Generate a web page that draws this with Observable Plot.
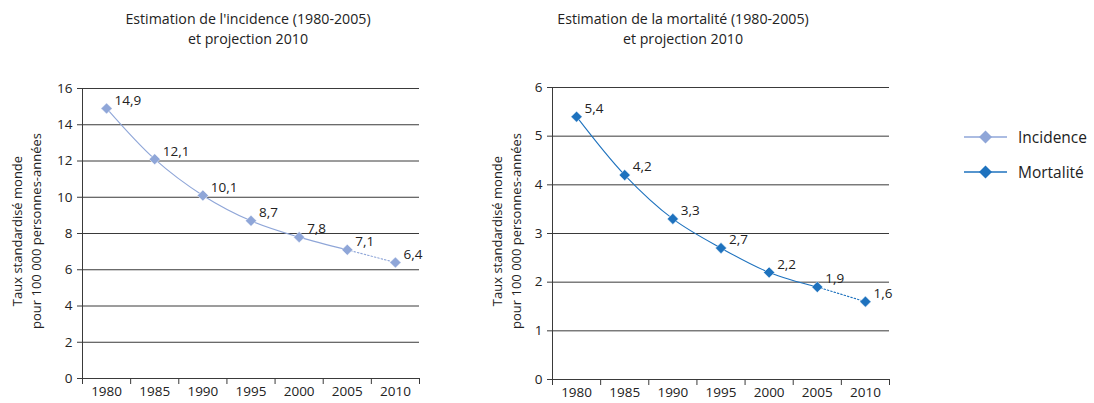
<!DOCTYPE html>
<html><head><meta charset="utf-8">
<script src="https://cdn.jsdelivr.net/npm/d3@7"></script>
<script src="https://cdn.jsdelivr.net/npm/@observablehq/plot@0.6"></script>
<style>
body{margin:0;background:#fff;font-family:"Open Sans",Lato,sans-serif;color:#222;}
#wrap{position:relative;width:1094px;height:403px;overflow:hidden;}
.title{position:absolute;text-align:center;font-size:14.2px;line-height:20px;width:380px;}
.ylab{position:absolute;width:300px;text-align:center;font-size:13px;line-height:19px;transform:rotate(-90deg);transform-origin:center center;white-space:nowrap;}
.plot{position:absolute;top:60px;}
.legend{position:absolute;left:962px;font-size:15.5px;}
.legend div{display:flex;align-items:center;height:35px;}
</style></head>
<body><div id="wrap"></div>
<script>
const years = [1980, 1985, 1990, 1995, 2000, 2005, 2010];
const incidence = [14.9, 12.1, 10.1, 8.7, 7.8, 7.1, 6.4];
const mortalite = [5.4, 4.2, 3.3, 2.7, 2.2, 1.9, 1.6];
const incTicks = [0, 2, 4, 6, 8, 10, 12, 14, 16];
const morTicks = [0, 1, 2, 3, 4, 5, 6];
const titles = ["Estimation de l'incidence (1980-2005)\net projection 2010", "Estimation de la mortalité (1980-2005)\net projection 2010"];
const seriesNames = ["Incidence", "Mortalité"];
const colors = ["#8FA6D8", "#1E72BE"];
const yLabel = ["Taux standardisé monde", "pour 100 000 personnes-années"];

const wrap = document.getElementById("wrap");
const fmt = v => String(v).replace(".", ",");

function chart(values, ticks, yMax, color, left, title, titleCenter, ylabCenter, mTop, mBottom) {
  const data = years.map((y, i) => ({year: y, v: values[i]}));
  const solid = data.slice(0, 6);
  const proj = data.slice(5);
  const boundaries = d3.range(1977.5, 2013, 5);
  const p = Plot.plot({
    width: 440, height: 343,
    marginLeft: 82, marginRight: 21, marginTop: mTop, marginBottom: mBottom,
    style: {fontFamily: "'Open Sans', Lato, sans-serif", fontSize: "13px", color: "#222", overflow: "visible"},
    x: {domain: [1977.5, 2012.5], axis: null},
    y: {domain: [0, yMax], axis: null},
    marks: [
      Plot.ruleY(ticks, {stroke: "#3a3a3a", strokeWidth: 1}),
      Plot.ruleX([1977.5], {stroke: "#3a3a3a"}),
      Plot.axisY({ticks: ticks, tickSize: 5, tickPadding: 5, tickFormat: d => String(d), stroke: "#3a3a3a", label: null, fontSize: 13.5}),
      Plot.axisX({ticks: boundaries, tickSize: 6, tickFormat: () => "", stroke: "#3a3a3a", label: null}),
      Plot.axisX({ticks: years, tickSize: 0, tickPadding: 8, tickFormat: d => String(d), label: null, fontSize: 13.5}),
      Plot.line(solid, {x: "year", y: "v", stroke: color, strokeWidth: 1.1, curve: "catmull-rom"}),
      Plot.line(proj, {x: "year", y: "v", stroke: color, strokeWidth: 1.1, strokeDasharray: "1.5,2"}),
      Plot.dot(data, {x: "year", y: "v", symbol: "diamond2", r: 5, fill: color, stroke: "white", strokeWidth: 0.5}),
      Plot.text(data, {x: "year", y: "v", text: d => fmt(d.v), dx: 8, dy: -8, textAnchor: "start", fontSize: 13.5, fill: "#222"})
    ]
  });
  p.classList.add("plot");
  p.style.left = left + "px";
  wrap.appendChild(p);
  const t = document.createElement("div");
  t.className = "title";
  t.style.left = (titleCenter - 190) + "px";
  t.style.top = "9px";
  t.innerHTML = title.replace("\n", "<br>");
  wrap.appendChild(t);
  const yl = document.createElement("div");
  yl.className = "ylab";
  yl.style.left = (ylabCenter - 150) + "px";
  yl.style.top = (231 - 19) + "px";
  yl.innerHTML = yLabel.join("<br>");
  wrap.appendChild(yl);
}

chart(incidence, incTicks, 16, colors[0], 0, titles[0], 248, 27, 28, 25);
chart(mortalite, morTicks, 6, colors[1], 470, titles[1], 683, 507, 27, 24);

const lg = document.createElement("div");
lg.className = "legend";
lg.style.top = "119px";
seriesNames.forEach((n, i) => {
  const row = document.createElement("div");
  row.innerHTML = `<svg width="56" height="16"><line x1="2" x2="45" y1="8" y2="8" stroke="${colors[i]}" stroke-width="1.3"/><path d="M23.5 1.5 L30 8 L23.5 14.5 L17 8Z" fill="${colors[i]}"/></svg><span>${n}</span>`;
  lg.appendChild(row);
});
wrap.appendChild(lg);
</script></body></html>
